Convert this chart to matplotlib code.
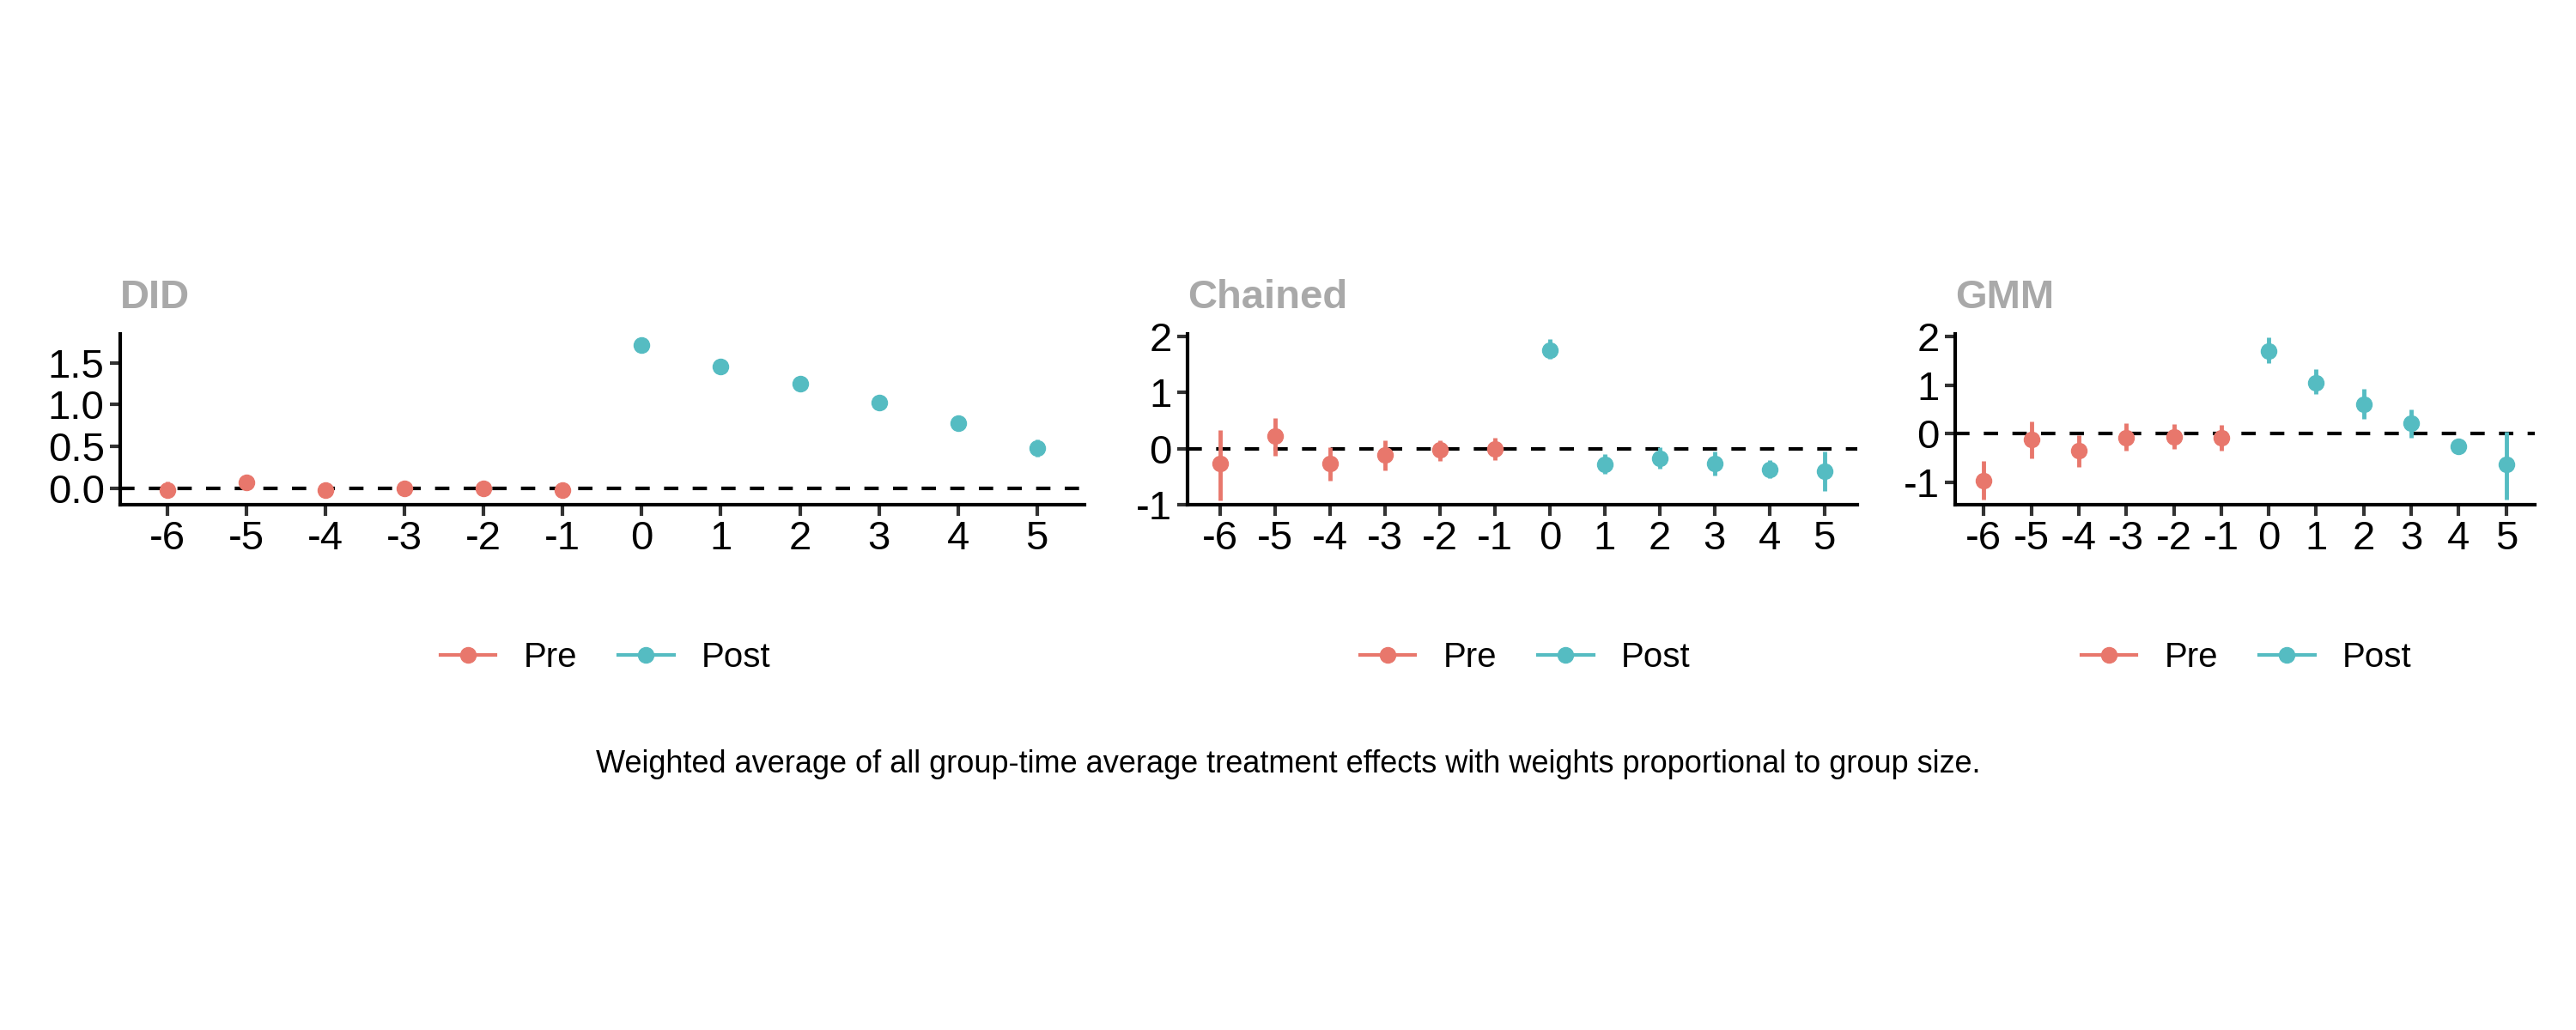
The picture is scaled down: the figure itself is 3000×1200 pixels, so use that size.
import matplotlib
matplotlib.use("Agg")
import matplotlib.pyplot as plt
from matplotlib.lines import Line2D

plt.rcParams['font.family'] = ['Liberation Sans', 'DejaVu Sans']

event = [-6, -5, -4, -3, -2, -1, 0, 1, 2, 3, 4, 5]
did_est = [-0.02, 0.07, -0.03, 0.0, 0.0, -0.02, 1.71, 1.46, 1.25, 1.02, 0.78, 0.48]
did_lo = [-0.12, 0.02, -0.06, -0.03, -0.03, -0.05, 1.67, 1.42, 1.21, 0.98, 0.74, 0.38]
did_hi = [0.08, 0.12, 0.00, 0.03, 0.03, 0.01, 1.75, 1.50, 1.29, 1.06, 0.82, 0.58]
ch_est = [-0.27, 0.22, -0.27, -0.11, -0.02, 0.0, 1.75, -0.28, -0.18, -0.27, -0.37, -0.40]
ch_lo = [-0.93, -0.12, -0.57, -0.38, -0.22, -0.20, 1.60, -0.45, -0.35, -0.48, -0.52, -0.75]
ch_hi = [0.33, 0.55, 0.03, 0.15, 0.15, 0.20, 1.95, -0.10, 0.02, -0.05, -0.20, -0.05]
gmm_est = [-0.95, -0.12, -0.35, -0.08, -0.07, -0.08, 1.70, 1.05, 0.60, 0.22, -0.25, -0.62]
gmm_lo = [-1.35, -0.50, -0.68, -0.35, -0.30, -0.35, 1.45, 0.82, 0.30, -0.08, -0.40, -1.35]
gmm_hi = [-0.55, 0.25, -0.02, 0.22, 0.20, 0.18, 1.97, 1.32, 0.92, 0.50, -0.10, 0.05]

titles = ["DID", "Chained", "GMM"]
yticks = [[0.0, 0.5, 1.0, 1.5], [-1, 0, 1, 2], [-1, 0, 1, 2]]
yticklabels = [["0.0", "0.5", "1.0", "1.5"], ["-1", "0", "1", "2"], ["-1", "0", "1", "2"]]
ylims = [(-0.2, 1.85), (-1.0, 2.05), (-1.45, 2.05)]
caption = "Weighted average of all group-time average treatment effects with weights proportional to group size."

PRE = "#E8776C"
POST = "#55BCC2"

fig = plt.figure(figsize=(30, 12), dpi=100)
boxes = [(0.0466, 0.421), (0.461, 0.721), (0.759, 0.984)]
legx = [0.235, 0.592, 0.872]
bottom, top = 0.510, 0.676
data = [(did_est, did_lo, did_hi), (ch_est, ch_lo, ch_hi), (gmm_est, gmm_lo, gmm_hi)]

for i, ((l, r), (est, lo, hi)) in enumerate(zip(boxes, data)):
    ax = fig.add_axes([l, bottom, r - l, top - bottom])
    for x, e, a, b in zip(event, est, lo, hi):
        c = PRE if x < 0 else POST
        ax.plot([x, x], [a, b], color=c, lw=3.5, solid_capstyle='butt', zorder=2)
        ax.plot(x, e, 'o', color=c, ms=13, zorder=3)
    ax.axhline(0, color='black', ls=(0, (4, 4)), lw=3, zorder=1)
    ax.set_xlim(-6.6, 5.6)
    ax.set_ylim(*ylims[i])
    ax.set_xticks(event)
    ax.set_xticklabels([str(x) for x in event])
    ax.set_yticks(yticks[i])
    ax.set_yticklabels(yticklabels[i])
    ax.tick_params(labelsize=34, width=3, length=9, color='#333333', pad=4)
    for s in ['top', 'right']:
        ax.spines[s].set_visible(False)
    for s in ['left', 'bottom']:
        ax.spines[s].set_linewidth(3)
    ax.text(0.0, 1.1, titles[i], transform=ax.transAxes, fontsize=34,
            fontweight='bold', color='#A9A9A9', ha='left', va='bottom')
    handles = [Line2D([], [], color=PRE, marker='o', ms=13, lw=3),
               Line2D([], [], color=POST, marker='o', ms=13, lw=3)]
    fig.legend(handles, ["Pre", "Post"], loc='center',
               bbox_to_anchor=(legx[i], 0.362), ncol=2, frameon=False,
               fontsize=29, handlelength=1.6, columnspacing=1.2)

fig.text(0.5, 0.258, caption, ha='center', va='center', fontsize=26)
fig.savefig("out.png", dpi=100, facecolor='white')
